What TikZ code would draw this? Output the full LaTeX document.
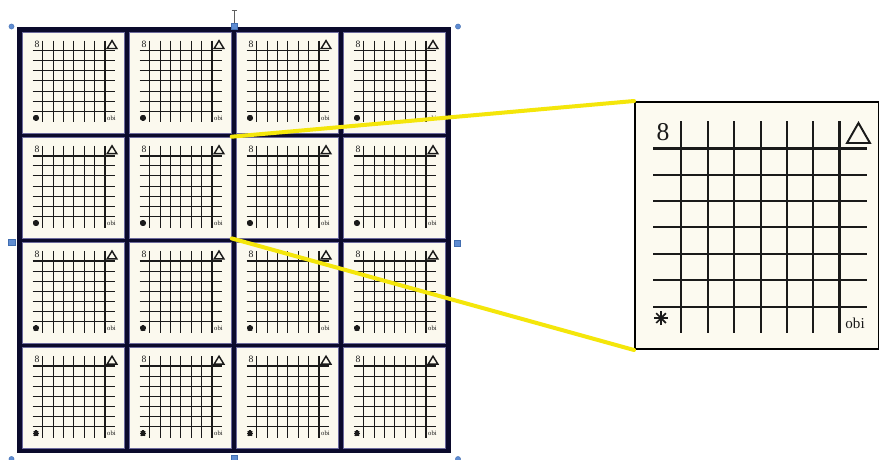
\documentclass[tikz,border=0pt]{standalone}
\usepackage{fontspec}
\setmainfont{Liberation Serif}
\definecolor{framenavy}{HTML}{0B0A2C}
\definecolor{tilefill}{HTML}{FBF9EE}
\definecolor{bigfill}{HTML}{FCFAF0}
\definecolor{tileedge}{HTML}{6C6A9C}
\definecolor{gridink}{HTML}{1A1A1A}
\definecolor{zoomyellow}{HTML}{F4E60A}
\definecolor{handleblue}{HTML}{5F8CD2}
\definecolor{handleedge}{HTML}{416DB0}
\tikzset{
  tilebox/.style={draw=tileedge, line width=0.7pt, fill=tilefill, minimum width=102pt, minimum height=101pt, inner sep=0pt, anchor=north west},
  bigbox/.style={draw=black, line width=2pt, fill=bigfill, minimum width=244pt, minimum height=247pt, inner sep=0pt, anchor=north west},
  zoomline/.style={draw=zoomyellow, line width=4pt, line cap=round},
  gridline/.style={draw=gridink},
  handledot/.style={fill=handleblue, draw=handleedge, line width=0.4pt},
  lbl/.style={inner sep=0pt, text=gridink},
}
% small tile proportions
\newcommand\setsmallgrid{%
  \def\gVa{0.205}\def\gVb{0.814}\def\gVya{0.09}\def\gVyb{0.9}%
  \def\gHa{0.188}\def\gHb{0.79}\def\gHxa{0.105}\def\gHxb{0.915}%
  \def\gEx{0.147}\def\gEy{0.125}\def\gEightF{0.095}%
  \def\gOx{0.877}\def\gOy{0.855}\def\gObiF{0.065}%
  \def\gTa{0.835}\def\gTb{0.93}\def\gTya{0.09}\def\gTyb{0.168}%
  \def\gAx{0.137}\def\gAy{0.855}\def\gAr{0.03}%
  \def\gThinF{0.0098}\def\gThickF{0.016}\def\gTriF{0.014}\def\gAstF{0.016}}
% magnified tile proportions
\newcommand\setbiggrid{%
  \def\gVa{0.193}\def\gVb{0.844}\def\gVya{0.081}\def\gVyb{0.939}%
  \def\gHa{0.191}\def\gHb{0.833}\def\gHxa{0.078}\def\gHxb{0.955}%
  \def\gEx{0.119}\def\gEy{0.126}\def\gEightF{0.105}%
  \def\gOx{0.906}\def\gOy{0.899}\def\gObiF{0.062}%
  \def\gTa{0.873}\def\gTb{0.967}\def\gTya{0.089}\def\gTyb{0.17}%
  \def\gAx{0.111}\def\gAy{0.879}\def\gAr{0.028}%
  \def\gThinF{0.0082}\def\gThickF{0.012}\def\gTriF{0.008}\def\gAstF{0.007}}
% #1 name, #2 x, #3 y (top-left, px), #4 width, #5 height
\newcommand\tilegrid[5]{%
  \pgfmathsetmacro\tgThin{#4*\gThinF}%
  \pgfmathsetmacro\tgThick{#4*\gThickF}%
  \pgfmathsetmacro\tgTri{#4*\gTriF}%
  \pgfmathsetmacro\tgAst{#4*\gAstF}%
  \pgfmathsetmacro\tgEight{#4*\gEightF}%
  \pgfmathsetmacro\tgObi{#4*\gObiF}%
  \pgfmathsetmacro\tgDv{(\gVb-\gVa)/6}%
  \pgfmathsetmacro\tgDh{(\gHb-\gHa)/6}%
  \pgfmathsetmacro\tgTm{(\gTa+\gTb)/2}%
  \begin{scope}[shift={(#2,#3)}, x=#4pt, y=-#5pt]
    \foreach \i in {0,...,5}
      \draw[gridline, line width=\tgThin pt] ({\gVa+\i*\tgDv},\gVya) -- ({\gVa+\i*\tgDv},\gVyb);
    \draw[gridline, line width=\tgThick pt] (\gVb,\gVya) -- (\gVb,\gVyb);
    \foreach \i in {1,...,6}
      \draw[gridline, line width=\tgThin pt] (\gHxa,{\gHa+\i*\tgDh}) -- (\gHxb,{\gHa+\i*\tgDh});
    \draw[gridline, line width=\tgThick pt] (\gHxa,\gHa) -- (\gHxb,\gHa);
    \node[lbl, font=\fontsize{\tgEight pt}{\tgEight pt}\selectfont] (#1-eight) at (\gEx,\gEy) {8};
    \node[lbl, font=\fontsize{\tgObi pt}{\tgObi pt}\selectfont] (#1-obi) at (\gOx,\gOy) {obi};
    \draw[gridline, line width=\tgTri pt, line join=miter] (\gTa,\gTyb) -- (\tgTm,\gTya) -- (\gTb,\gTyb) -- cycle;
    \foreach \a in {0,45,90,135}
      \draw[gridline, line width=\tgAst pt] (\gAx,\gAy) ++(\a:\gAr) -- ++(\a+180:2*\gAr);
  \end{scope}}

\begin{document}
\begin{tikzpicture}[x=1pt, y=-1pt]
  \useasboundingbox (0,0) rectangle (879,459);
  \fill[white] (0,0) rectangle (879,459);

  % outer dark frame
  \fill[framenavy] (17,27) rectangle (450.5,453);

  % 4 x 4 tiles
  \setsmallgrid
  \foreach \r in {0,...,3} {
    \foreach \c in {0,...,3} {
      \pgfmathsetmacro\tx{22+107*\c}
      \pgfmathsetmacro\ty{31.5+105.2*\r}
      \node[tilebox] (t\r\c) at (\tx,\ty) {};
      \tilegrid{t\r\c}{\tx}{\ty}{102}{101}
    }
  }

  % magnified tile
  \node[bigbox] (zoom) at (634,101) {};
  \setbiggrid
  \tilegrid{zoom}{634}{101}{244}{247}

  % yellow zoom connectors
  \draw[zoomline] (t11.north east) -- (zoom.north west);
  \draw[zoomline] (t11.south east) -- (zoom.south west);

  % selection handles
  \draw[gridink!70, line width=0.7pt] (234,23) -- (234,10);
  \draw[gridink!70, line width=0.7pt] (231.5,10) -- (236.5,10);
  \filldraw[handledot] (11.5,26.5) circle (2.6);
  \filldraw[handledot] (458,26.5) circle (2.6);
  \filldraw[handledot] (11.5,459) circle (2.6);
  \filldraw[handledot] (458,459) circle (2.6);
  \filldraw[handledot] (231,23) rectangle (237,29);
  \filldraw[handledot] (8.5,239) rectangle (15,245.5);
  \filldraw[handledot] (454,240) rectangle (460.5,246.5);
  \filldraw[handledot] (231,455.5) rectangle (237,461);
\end{tikzpicture}
\end{document}
